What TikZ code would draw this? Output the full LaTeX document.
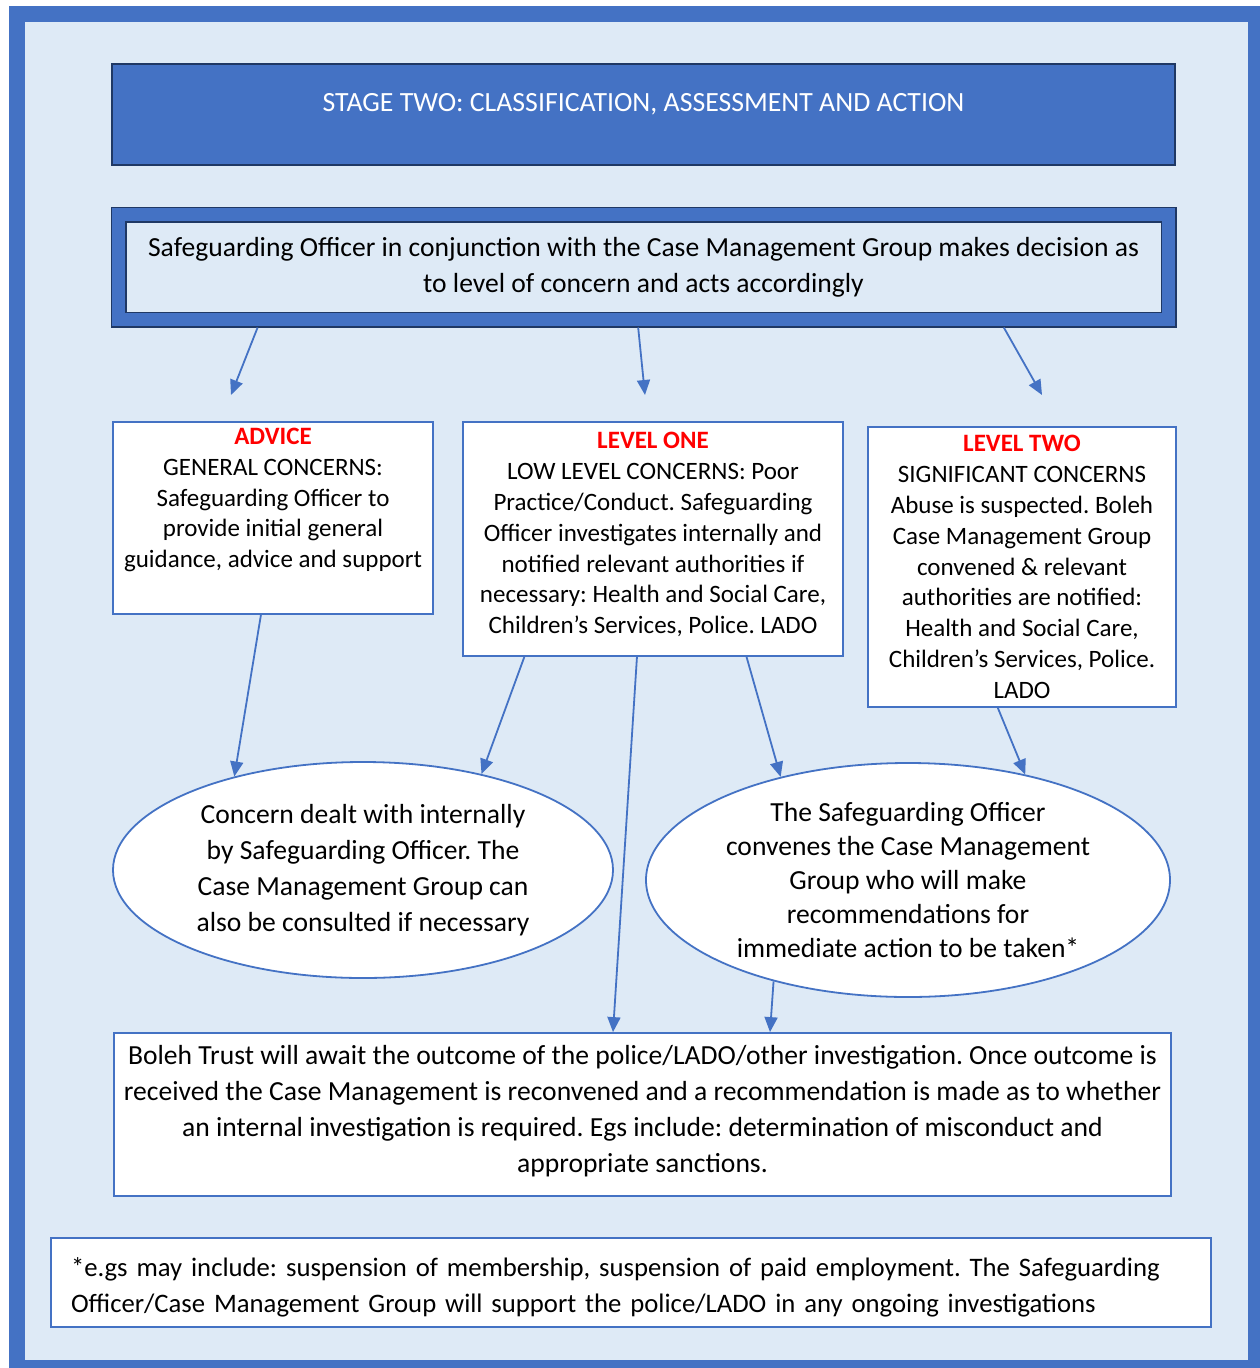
\documentclass[tikz,border=0pt]{standalone}
\usepackage{fontspec}
\setmainfont{Carlito}
\frenchspacing
\usetikzlibrary{calc, arrows.meta, shapes.geometric}
\definecolor{framecolor}{HTML}{4472C4}
\definecolor{pagecolor}{HTML}{DEEAF6}
\definecolor{navycolor}{HTML}{1F3864}
\definecolor{levelcolor}{HTML}{FF0000}

\newcommand{\boxfont}{\fontsize{25}{30.8}\selectfont}
\newcommand{\bigfont}{\fontsize{27.6}{36}\selectfont}
\newcommand{\levelname}[1]{\textcolor{levelcolor}{\textbf{#1}}}

\begin{document}
\begin{tikzpicture}[
    x=1pt, y=-1pt,
    align=center,
    concern/.style={draw=framecolor, fill=white, rectangle, line width=1.8pt, inner sep=0pt, font=\boxfont},
    bubble/.style={draw=framecolor, fill=white, ellipse, line width=1.8pt, inner sep=0pt, font=\bigfont},
    textbox/.style={draw=framecolor, fill=white, rectangle, line width=1.8pt, inner sep=0pt, font=\bigfont},
    arrow/.style={-{Triangle[length=15pt, width=13pt]}, line width=1.8pt, draw=framecolor}
]

    % =========================================================================
    % PAGE FRAME
    % =========================================================================
    \useasboundingbox (0,0) rectangle (1260,1368);
    \fill [framecolor] (9,6) rectangle (1260,1368);
    \fill [pagecolor] (25,22) rectangle (1248,1360);

    % =========================================================================
    % HEADINGS
    % =========================================================================
    \node (stage_title) at (643.5,114) [fill=framecolor, draw=navycolor, line width=2pt, minimum width=1063pt, inner ysep=0pt, text height=48pt, text depth=53pt, text=white, font=\fontsize{27.8}{33}\selectfont] {STAGE TWO: CLASSIFICATION, ASSESSMENT AND ACTION};
    \node (decision) at (643.5,267) [fill=pagecolor, draw=navycolor, line width=1.5pt, double=framecolor, double distance=13pt, minimum width=1050pt, minimum height=105pt, outer sep=8pt, font=\bigfont] {Safeguarding Officer in conjunction with the Case Management Group makes decision as\\to level of concern and acts accordingly};

    % =========================================================================
    % LEVELS OF CONCERN
    % =========================================================================
    \node (advice) at (273,518) [concern, minimum width=320pt, minimum height=192pt] {\levelname{ADVICE}\\GENERAL CONCERNS:\\Safeguarding Officer to\\provide initial general\\guidance, advice and support\\\strut};
    \node (level_one) at (653,539) [concern, minimum width=380pt, minimum height=234pt] {\levelname{LEVEL ONE}\\LOW LEVEL CONCERNS: Poor\\Practice/Conduct. Safeguarding\\Officer investigates internally and\\notified relevant authorities if\\necessary: Health and Social Care,\\Children’s Services, Police. LADO\\[-18.8pt]\mbox{}};
    \node (level_two) at (1022,567) [concern, minimum width=308pt, minimum height=280pt] {\levelname{LEVEL TWO}\\SIGNIFICANT CONCERNS\\Abuse is suspected. Boleh\\Case Management Group\\convened \& relevant\\authorities are notified:\\Health and Social Care,\\Children’s Services, Police.\\LADO};

    \coordinate (advice_in) at (231,395);
    \coordinate (one_in) at (645,395);
    \coordinate (two_in) at (1042,395);
    \draw [arrow] ($(decision.south west)!0.138!(decision.south east)$) -- (advice_in);
    \draw [arrow] ($(decision.south west)!0.495!(decision.south east)$) -- (one_in);
    \draw [arrow] ($(decision.south west)!0.838!(decision.south east)$) -- (two_in);

    % =========================================================================
    % ACTIONS
    % =========================================================================
    \node (internal) at (363,870) [bubble, minimum width=500pt, minimum height=216pt] {Concern dealt with internally\\by Safeguarding Officer. The\\Case Management Group can\\also be consulted if necessary};
    \node (convene) at (908,880) [bubble, minimum width=524pt, minimum height=234pt, font=\fontsize{27.6}{33.8}\selectfont] {The Safeguarding Officer\\convenes the Case Management\\Group who will make\\recommendations for\\immediate action to be taken*};
    \node (outcome) at (642.5,1114.5) [textbox, minimum width=1057pt, minimum height=163pt] {Boleh Trust will await the outcome of the police/LADO/other investigation. Once outcome is\\received the Case Management is reconvened and a recommendation is made as to whether\\an internal investigation is required. Egs include: determination of misconduct and\\appropriate sanctions.\\[-24pt]\mbox{}};
    \node (footnote) at (631,1282.5) [textbox, align=left, text width=1120pt, inner xsep=20pt, minimum height=89pt, font=\fontsize{26.7}{36}\selectfont] {\mbox{\rule{0pt}{28pt}*e.gs may include: suspension of membership, suspension of paid employment. The Safeguarding}\\\mbox{Officer/Case Management Group will support the police/LADO in any ongoing investigations}};

    \draw [arrow] ($(advice.south west)!0.4625!(advice.south east)$) -- (internal.144.5);
    \draw [arrow] ($(level_one.south west)!0.163!(level_one.south east)$) -- (internal.39.6);
    \draw [arrow] ($(level_one.south west)!0.458!(level_one.south east)$) -- ($(outcome.north)+(-29.5,0)$);
    \draw [arrow] ($(level_one.south west)!0.745!(level_one.south east)$) -- (convene.141.8);
    \draw [arrow] ($(level_two.south west)!0.422!(level_two.south east)$) -- (convene.42.9);
    \draw [arrow] (convene.217.9) -- ($(outcome.north)+(127.5,0)$);

\end{tikzpicture}
\end{document}
